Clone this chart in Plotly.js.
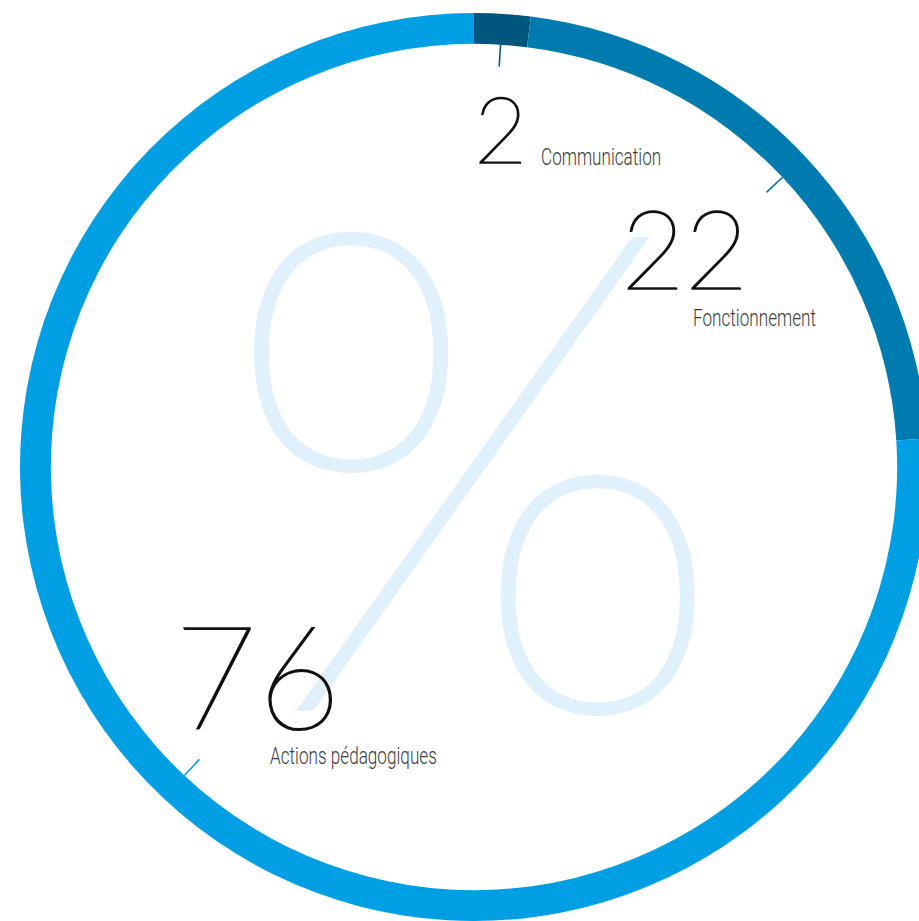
<!DOCTYPE html>
<html><head><meta charset="utf-8">
<script src="https://cdn.plot.ly/plotly-3.0.1.min.js"></script>
<style>html,body{margin:0;padding:0;overflow:hidden;background:#fff;width:919px;height:921px}</style>
</head><body><div id="chart" style="width:948px;height:921px"></div>
<script>
// ---- data ----
const categories = ['Communication', 'Fonctionnement', 'Actions pédagogiques'];
const shares = [2, 22, 76];
const valueLabels = ['2', '22', '76'];
const sliceColors = ['#00567C', '#007BB0', '#009FE3'];

// ---- layout geometry (pixels) ----
const W = 948, H = 921;
const cx = 474, cy = 467, R = 454, hole = 0.932;
const rIn = R * hole;
const tickLen = 22;

function px(x) { return x / W; }
function py(y) { return 1 - y / H; }

// ticks at slice mid-angles, computed from the data
const total = shares.reduce((a, b) => a + b, 0);
const shapes = [];
let cum = 0;
shares.forEach((v, i) => {
  const th = (cum + v / 2) / total * 2 * Math.PI;
  cum += v;
  const x0 = cx + rIn * Math.sin(th), y0 = cy - rIn * Math.cos(th);
  const x1 = cx + (rIn - tickLen) * Math.sin(th), y1 = cy - (rIn - tickLen) * Math.cos(th);
  shapes.push({type: 'line', xref: 'paper', yref: 'paper',
    x0: px(x0), y0: py(y0), x1: px(x1), y1: py(y1),
    line: {color: sliceColors[i], width: 1.6}});
});

const numFont = {family: 'Lato, sans-serif', weight: 200, color: '#111'};
const labFont = {family: 'Roboto, sans-serif', weight: 300, size: 23, color: '#3c3c3c'};

// placement of value + label per category: [numX, numBaseline, numSize, labX, labBaseline]
const place = [
  [472, 165, 92, 539, 167],
  [619, 290, 110, 691, 328],
  [172, 730, 144, 268, 766]
];

const annotations = [{
  text: '%', xref: 'paper', yref: 'paper', x: px(474), y: py(449),
  xanchor: 'center', yanchor: 'middle', showarrow: false,
  font: {family: 'Lato, sans-serif', weight: 100, size: 666, color: '#E1F1FC'}
}];
categories.forEach((c, i) => {
  const p = place[i];
  annotations.push({text: valueLabels[i], xref: 'paper', yref: 'paper',
    x: px(p[0]), y: py(p[1] + p[2] * 0.22), xanchor: 'left', yanchor: 'bottom',
    showarrow: false, font: Object.assign({size: p[2]}, numFont)});
  annotations.push({text: c, xref: 'paper', yref: 'paper',
    x: px(p[3]), y: py(p[4] + 6), xanchor: 'left', yanchor: 'bottom',
    showarrow: false, font: labFont});
});

const trace = {
  type: 'pie', values: shares, labels: categories, sort: false,
  direction: 'clockwise', rotation: 0, hole: hole,
  marker: {colors: sliceColors, line: {width: 0}},
  textinfo: 'none', hoverinfo: 'skip', showlegend: false,
  domain: {x: [0, 1], y: [0, (H - (cy - R)) / H]}
};

Plotly.newPlot('chart', [trace], {
  width: W, height: H, margin: {l: 0, r: 0, t: 0, b: 0},
  paper_bgcolor: '#fff', plot_bgcolor: '#fff', showlegend: false,
  shapes: shapes, annotations: annotations
}, {staticPlot: true}).then(() => {
  const texts = document.querySelectorAll('#chart .annotation-text');
  texts.forEach((t, k) => {
    if (k === 0) {
      t.style.stroke = '#E1F1FC'; t.style.strokeWidth = '7.5px';
    } else if (k % 2 === 1) {
      t.style.stroke = '#111'; t.style.strokeWidth = '1.6px';
    } else {
      t.style.transformBox = 'fill-box';
      t.style.transformOrigin = 'left center';
      t.style.transform = 'scaleX(0.745)';
    }
  });
});
</script></body></html>
